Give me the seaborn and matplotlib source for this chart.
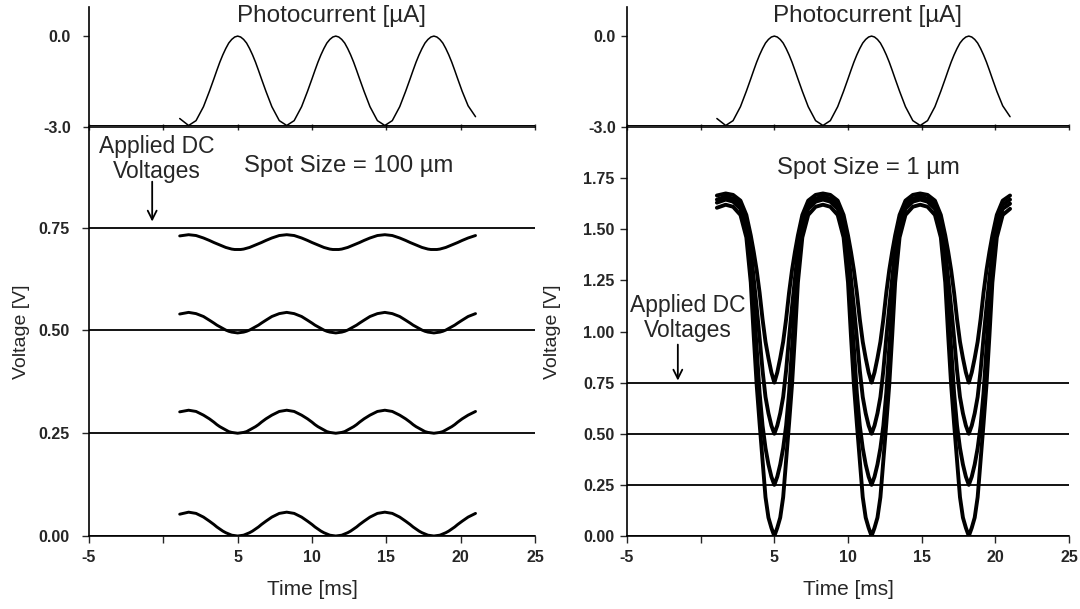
import matplotlib
matplotlib.use("Agg")
import matplotlib.pyplot as plt
import seaborn as sns

sns.set_style("ticks")
plt.rcParams["font.family"] = ["Liberation Sans", "DejaVu Sans"]

# ---- data -------------------------------------------------------------
time_ms = [1.1, 1.7,
           2.2, 2.7, 3.1, 3.4, 3.6, 3.8, 4.0, 4.2, 4.4, 4.6, 4.8, 5.0,
           5.2, 5.4, 5.6, 5.8, 6.0, 6.2, 6.4, 6.6, 6.9, 7.3, 7.8, 8.3,
           8.8, 9.3, 9.7, 10.0, 10.2, 10.4, 10.6, 10.8, 11.0, 11.2, 11.4, 11.6,
           11.8, 12.0, 12.2, 12.4, 12.6, 12.8, 13.0, 13.2, 13.5, 13.9, 14.4, 14.9,
           15.4, 15.9, 16.3, 16.6, 16.8, 17.0, 17.2, 17.4, 17.6, 17.8, 18.0, 18.2,
           18.4, 18.6, 18.8, 19.0, 19.2, 19.4, 19.6, 19.8, 20.1, 20.5, 21.0]

photocurrent_uA = [-2.72, -2.95,
                   -2.79, -2.33, -1.82, -1.41, -1.13, -0.86, -0.62, -0.41, -0.23, -0.11, -0.03, 0.00,
                   -0.03, -0.11, -0.23, -0.41, -0.62, -0.86, -1.13, -1.41, -1.82, -2.33, -2.79, -2.95,
                   -2.79, -2.33, -1.82, -1.41, -1.13, -0.86, -0.62, -0.41, -0.23, -0.11, -0.03, 0.00,
                   -0.03, -0.11, -0.23, -0.41, -0.62, -0.86, -1.13, -1.41, -1.82, -2.33, -2.79, -2.95,
                   -2.79, -2.33, -1.82, -1.41, -1.13, -0.86, -0.62, -0.41, -0.23, -0.11, -0.03, 0.00,
                   -0.03, -0.11, -0.23, -0.41, -0.62, -0.86, -1.13, -1.41, -1.82, -2.30, -2.66]

applied_dc_V = [0.0, 0.25, 0.5, 0.75]

# spot size 100 um: measured voltage for each applied DC level
v100_dc000 = [0.053, 0.058,
              0.055, 0.046, 0.036, 0.028, 0.022, 0.017, 0.012, 0.008, 0.005, 0.002, 0.001, 0.000,
              0.001, 0.002, 0.005, 0.008, 0.012, 0.017, 0.022, 0.028, 0.036, 0.046, 0.055, 0.058,
              0.055, 0.046, 0.036, 0.028, 0.022, 0.017, 0.012, 0.008, 0.005, 0.002, 0.001, 0.000,
              0.001, 0.002, 0.005, 0.008, 0.012, 0.017, 0.022, 0.028, 0.036, 0.046, 0.055, 0.058,
              0.055, 0.046, 0.036, 0.028, 0.022, 0.017, 0.012, 0.008, 0.005, 0.002, 0.001, 0.000,
              0.001, 0.002, 0.005, 0.008, 0.012, 0.017, 0.022, 0.028, 0.036, 0.046, 0.055]
v100_dc025 = [0.302, 0.306,
              0.303, 0.294, 0.285, 0.277, 0.271, 0.266, 0.262, 0.258, 0.254, 0.252, 0.251, 0.250,
              0.251, 0.252, 0.254, 0.258, 0.262, 0.266, 0.271, 0.277, 0.285, 0.294, 0.303, 0.306,
              0.303, 0.294, 0.285, 0.277, 0.271, 0.266, 0.262, 0.258, 0.254, 0.252, 0.251, 0.250,
              0.251, 0.252, 0.254, 0.258, 0.262, 0.266, 0.271, 0.277, 0.285, 0.294, 0.303, 0.306,
              0.303, 0.294, 0.285, 0.277, 0.271, 0.266, 0.262, 0.258, 0.254, 0.252, 0.251, 0.250,
              0.251, 0.252, 0.254, 0.258, 0.262, 0.266, 0.271, 0.277, 0.285, 0.294, 0.303]
v100_dc050 = [0.540, 0.544,
              0.541, 0.534, 0.525, 0.518, 0.513, 0.509, 0.505, 0.501, 0.498, 0.496, 0.495, 0.494,
              0.495, 0.496, 0.498, 0.501, 0.505, 0.509, 0.513, 0.518, 0.525, 0.534, 0.541, 0.544,
              0.541, 0.534, 0.525, 0.518, 0.513, 0.509, 0.505, 0.501, 0.498, 0.496, 0.495, 0.494,
              0.495, 0.496, 0.498, 0.501, 0.505, 0.509, 0.513, 0.518, 0.525, 0.534, 0.541, 0.544,
              0.541, 0.534, 0.525, 0.518, 0.513, 0.509, 0.505, 0.501, 0.498, 0.496, 0.495, 0.494,
              0.495, 0.496, 0.498, 0.501, 0.505, 0.509, 0.513, 0.518, 0.525, 0.534, 0.541]
v100_dc075 = [0.730, 0.733,
              0.731, 0.725, 0.719, 0.714, 0.711, 0.708, 0.705, 0.702, 0.700, 0.698, 0.697, 0.697,
              0.697, 0.698, 0.700, 0.702, 0.705, 0.708, 0.711, 0.714, 0.719, 0.725, 0.731, 0.733,
              0.731, 0.725, 0.719, 0.714, 0.711, 0.708, 0.705, 0.702, 0.700, 0.698, 0.697, 0.697,
              0.697, 0.698, 0.700, 0.702, 0.705, 0.708, 0.711, 0.714, 0.719, 0.725, 0.731, 0.733,
              0.731, 0.725, 0.719, 0.714, 0.711, 0.708, 0.705, 0.702, 0.700, 0.698, 0.697, 0.697,
              0.697, 0.698, 0.700, 0.702, 0.705, 0.708, 0.711, 0.714, 0.719, 0.725, 0.731]

# spot size 1 um: measured voltage for each applied DC level
v1_dc000 = [1.605, 1.620,
            1.610, 1.57, 1.46, 1.24, 0.98, 0.74, 0.55, 0.37, 0.19, 0.09, 0.04, 0.00,
            0.04, 0.09, 0.19, 0.37, 0.55, 0.74, 0.98, 1.24, 1.46, 1.57, 1.610, 1.620,
            1.610, 1.57, 1.46, 1.24, 0.98, 0.74, 0.55, 0.37, 0.19, 0.09, 0.04, 0.00,
            0.04, 0.09, 0.19, 0.37, 0.55, 0.74, 0.98, 1.24, 1.46, 1.57, 1.610, 1.620,
            1.610, 1.57, 1.46, 1.24, 0.98, 0.74, 0.55, 0.37, 0.19, 0.09, 0.04, 0.00,
            0.04, 0.09, 0.19, 0.37, 0.55, 0.74, 0.98, 1.24, 1.46, 1.57, 1.600]
v1_dc025 = [1.630, 1.645,
            1.635, 1.60, 1.50, 1.32, 1.13, 0.92, 0.70, 0.54, 0.43, 0.35, 0.29, 0.25,
            0.29, 0.35, 0.43, 0.54, 0.70, 0.92, 1.13, 1.32, 1.50, 1.60, 1.635, 1.645,
            1.635, 1.60, 1.50, 1.32, 1.13, 0.92, 0.70, 0.54, 0.43, 0.35, 0.29, 0.25,
            0.29, 0.35, 0.43, 0.54, 0.70, 0.92, 1.13, 1.32, 1.50, 1.60, 1.635, 1.645,
            1.635, 1.60, 1.50, 1.32, 1.13, 0.92, 0.70, 0.54, 0.43, 0.35, 0.29, 0.25,
            0.29, 0.35, 0.43, 0.54, 0.70, 0.92, 1.13, 1.32, 1.50, 1.60, 1.625]
v1_dc050 = [1.645, 1.660,
            1.650, 1.62, 1.54, 1.40, 1.26, 1.12, 0.97, 0.81, 0.68, 0.60, 0.54, 0.50,
            0.54, 0.60, 0.68, 0.81, 0.97, 1.12, 1.26, 1.40, 1.54, 1.62, 1.650, 1.660,
            1.650, 1.62, 1.54, 1.40, 1.26, 1.12, 0.97, 0.81, 0.68, 0.60, 0.54, 0.50,
            0.54, 0.60, 0.68, 0.81, 0.97, 1.12, 1.26, 1.40, 1.54, 1.62, 1.650, 1.660,
            1.650, 1.62, 1.54, 1.40, 1.26, 1.12, 0.97, 0.81, 0.68, 0.60, 0.54, 0.50,
            0.54, 0.60, 0.68, 0.81, 0.97, 1.12, 1.26, 1.40, 1.54, 1.62, 1.645]
v1_dc075 = [1.665, 1.675,
            1.668, 1.64, 1.57, 1.47, 1.39, 1.30, 1.19, 1.06, 0.95, 0.87, 0.80, 0.75,
            0.80, 0.87, 0.95, 1.06, 1.19, 1.30, 1.39, 1.47, 1.57, 1.64, 1.668, 1.675,
            1.668, 1.64, 1.57, 1.47, 1.39, 1.30, 1.19, 1.06, 0.95, 0.87, 0.80, 0.75,
            0.80, 0.87, 0.95, 1.06, 1.19, 1.30, 1.39, 1.47, 1.57, 1.64, 1.668, 1.675,
            1.668, 1.64, 1.57, 1.47, 1.39, 1.30, 1.19, 1.06, 0.95, 0.87, 0.80, 0.75,
            0.80, 0.87, 0.95, 1.06, 1.19, 1.30, 1.39, 1.47, 1.57, 1.64, 1.665]

x_ticks = [-5, 0, 5, 10, 15, 20, 25]
x_tick_labels = ["-5", "", "5", "10", "15", "20", "25"]
pc_ticks = [-3.0, 0.0]
pc_tick_labels = ["-3.0", "0.0"]
v_ticks_100 = [0.0, 0.25, 0.5, 0.75]
v_ticks_1 = [0.0, 0.25, 0.5, 0.75, 1.0, 1.25, 1.5, 1.75]

panels = [
    dict(spot="Spot Size = 100 \u00b5m", traces=[v100_dc000, v100_dc025, v100_dc050, v100_dc075],
         vticks=v_ticks_100, vmax=0.995, trace_lw=2.1, ypad=9, ylab_x=-0.132,
         spot_xy=(12.5, 0.90), note_xy=(-0.45, 0.917), arrow_x=-0.75, arrow_y=(0.862, 0.765)),
    dict(spot="Spot Size = 1 \u00b5m", traces=[v1_dc000, v1_dc025, v1_dc050, v1_dc075],
         vticks=v_ticks_1, vmax=2.0, trace_lw=2.8, ypad=4, ylab_x=-0.150,
         spot_xy=(11.4, 1.80), note_xy=(-0.85, 1.066), arrow_x=-1.55, arrow_y=(0.936, 0.76)),
]

tick_font = dict(fontsize=11.5, fontweight="bold")

# ---- figure -----------------------------------------------------------
W, H = 1080, 609
fig = plt.figure(figsize=(W / 100, H / 100), dpi=100)
fig.patch.set_facecolor("white")

left_px = [89, 627]
width_px = [446, 442]

for p, x0, w in zip(panels, left_px, width_px):
    ax_pc = fig.add_axes([x0 / W, 1 - 127 / H, w / W, 120 / H])
    ax_v = fig.add_axes([x0 / W, 1 - 536 / H, w / W, 409 / H])

    # photocurrent strip
    sns.lineplot(x=time_ms, y=photocurrent_uA, ax=ax_pc, color="black",
                 linewidth=1.1, estimator=None, sort=False)
    ax_pc.axhline(-2.93, color="black", linewidth=0.7)
    ax_pc.set_xlim(-5, 25)
    ax_pc.set_ylim(-3.0, 0.96)
    ax_pc.set_yticks(pc_ticks)
    ax_pc.set_yticklabels(pc_tick_labels, **tick_font)
    ax_pc.set_xticks(x_ticks)
    ax_pc.set_xticklabels([])
    ax_pc.tick_params(axis="x", direction="inout", length=4, width=1)
    ax_pc.tick_params(axis="y", direction="out", length=4, width=1, pad=p["ypad"])
    ax_pc.set_xlabel("")
    ax_pc.set_ylabel("")
    for s in ("top", "right"):
        ax_pc.spines[s].set_visible(False)
    for s in ("left", "bottom"):
        ax_pc.spines[s].set_linewidth(1.2)
        ax_pc.spines[s].set_color("black")
    ax_pc.patch.set_alpha(0)
    ax_pc.text(11.3, 0.66, "Photocurrent [\u00b5A]", ha="center", va="center", fontsize=17.5)

    # voltage traces
    for dc in applied_dc_V:
        ax_v.axhline(dc, color="black", linewidth=1.3)
    for tr in p["traces"]:
        sns.lineplot(x=time_ms, y=tr, ax=ax_v, color="black",
                     linewidth=p["trace_lw"], estimator=None, sort=False)
    ax_v.set_xlim(-5, 25)
    ax_v.set_ylim(0, p["vmax"])
    ax_v.set_xticks(x_ticks)
    ax_v.set_xticklabels(x_tick_labels, **tick_font)
    ax_v.set_yticks(p["vticks"])
    ax_v.set_yticklabels([f"{v:.2f}" for v in p["vticks"]], **tick_font)
    ax_v.tick_params(axis="both", direction="out", length=5, width=1)
    ax_v.tick_params(axis="y", pad=p["ypad"])
    ax_v.tick_params(axis="x", pad=5)
    for s in ("top", "right"):
        ax_v.spines[s].set_visible(False)
    for s in ("left", "bottom"):
        ax_v.spines[s].set_linewidth(1.2)
        ax_v.spines[s].set_color("black")
    ax_v.patch.set_alpha(0)
    ax_v.set_xlabel("Time [ms]", fontsize=15, labelpad=11)
    ax_v.set_ylabel("Voltage [V]", fontsize=14)
    ax_v.yaxis.set_label_coords(p["ylab_x"], 0.50)

    ax_v.text(*p["spot_xy"], p["spot"], ha="center", va="center", fontsize=17.2)
    ax_v.text(*p["note_xy"], "Applied DC\nVoltages", ha="center", va="center",
              fontsize=16.5, linespacing=1.08)
    ax_v.annotate("", xy=(p["arrow_x"], p["arrow_y"][1]), xytext=(p["arrow_x"], p["arrow_y"][0]),
                  arrowprops=dict(arrowstyle="->", color="black", lw=1.3, mutation_scale=16,
                                  shrinkA=0, shrinkB=0))

fig.savefig("out.png", dpi=100, facecolor="white")
